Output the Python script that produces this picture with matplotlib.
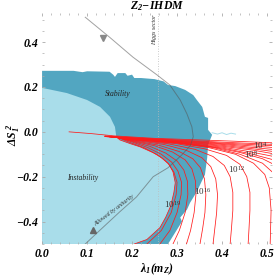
import numpy as np
import matplotlib
matplotlib.use("Agg")
import matplotlib.pyplot as plt
from matplotlib.ticker import MultipleLocator

plt.rcParams['mathtext.fontset'] = 'custom'
plt.rcParams['mathtext.it'] = 'Liberation Serif:bold:italic'
plt.rcParams['mathtext.rm'] = 'Liberation Serif:bold:italic'
plt.rcParams['mathtext.bf'] = 'Liberation Serif:bold:italic'

# --- regions ---
stab_lam = [0, 0.07, 0.09, 0.10, 0.15, 0.158, 0.162, 0.168, 0.185, 0.19, 0.20, 0.205, 0.22, 0.25, 0.27,
            0.28, 0.296, 0.318, 0.336, 0.344, 0.356, 0.362, 0.369, 0.369, 0.378, 0.369, 0.367, 0.362,
            0.355, 0.344, 0.329, 0.322, 0.307, 0.311, 0.28, 0]
stab_ds = [0.272, 0.272, 0.266, 0.27, 0.268, 0.255, 0.245, 0.262, 0.262, 0.25, 0.255, 0.24, 0.24, 0.235, 0.225,
           0.209, 0.204, 0.187, 0.164, 0.142, 0.111, 0.067, 0.062, 0.009, -0.013, -0.058, -0.116, -0.191,
           -0.22, -0.267, -0.316, -0.347, -0.382, -0.4, -0.5, -0.5]

inst_lam = [0, 0, 0.055, 0.10, 0.129, 0.151, 0.162, 0.165]
inst_ds = [-0.5, 0.196, 0.173, 0.142, 0.111, 0.067, 0.022, -0.022]

# small light-blue scrap right of the stable region
scrap_lam = [0.378, 0.39, 0.40, 0.41, 0.42, 0.43]
scrap_ds = [-0.004, -0.01, -0.004, -0.012, -0.006, -0.01]

# --- running curves (inner to outer) ---
red_lam = [
    [0.165, 0.173, 0.195, 0.218, 0.247, 0.268, 0.282, 0.291, 0.296, 0.293, 0.286, 0.275, 0.262, 0.233, 0.205],
    [0.165, 0.195, 0.228, 0.258, 0.28, 0.293, 0.30, 0.298, 0.287, 0.265, 0.233],
    [0.165, 0.20, 0.235, 0.265, 0.288, 0.302, 0.31, 0.309, 0.30, 0.284, 0.262],
    [0.16, 0.20, 0.24, 0.275, 0.30, 0.315, 0.323, 0.324, 0.318, 0.305, 0.291],
    [0.16, 0.20, 0.25, 0.29, 0.318, 0.333, 0.341, 0.342, 0.338, 0.33, 0.321],
    [0.16, 0.20, 0.26, 0.305, 0.335, 0.352, 0.361, 0.364, 0.362, 0.357, 0.351],
    [0.155, 0.20, 0.27, 0.32, 0.355, 0.375, 0.386, 0.39, 0.388, 0.384, 0.38],
    [0.155, 0.20, 0.28, 0.34, 0.38, 0.405, 0.418, 0.424, 0.424, 0.421, 0.418],
    [0.155, 0.20, 0.30, 0.36, 0.41, 0.44, 0.455, 0.462, 0.462, 0.46, 0.458],
    [0.15, 0.20, 0.30, 0.37, 0.43, 0.47, 0.495, 0.505, 0.509, 0.507],
    [0.15, 0.20, 0.30, 0.38, 0.44, 0.49, 0.515],
    [0.15, 0.20, 0.30, 0.38, 0.44, 0.49, 0.515],
    [0.15, 0.20, 0.30, 0.40, 0.46, 0.515],
    [0.15, 0.20, 0.30, 0.40, 0.46, 0.515],
    [0.14, 0.20, 0.30, 0.40, 0.47, 0.515],
    [0.14, 0.20, 0.30, 0.40, 0.47, 0.515],
    [0.14, 0.20, 0.30, 0.40, 0.515],
    [0.14, 0.20, 0.30, 0.40, 0.515],
    [0.14, 0.20, 0.30, 0.40, 0.515],
    [0.14, 0.20, 0.30, 0.40, 0.515],
    [0.06, 0.11, 0.16, 0.25, 0.35, 0.43, 0.515],
]
red_ds = [
    [-0.022, -0.036, -0.052, -0.067, -0.093, -0.118, -0.145, -0.178, -0.227, -0.27, -0.33, -0.38, -0.427, -0.48, -0.5],
    [-0.022, -0.047, -0.072, -0.104, -0.14, -0.18, -0.225, -0.28, -0.36, -0.44, -0.5],
    [-0.022, -0.045, -0.07, -0.10, -0.135, -0.175, -0.225, -0.28, -0.36, -0.44, -0.5],
    [-0.022, -0.042, -0.065, -0.095, -0.13, -0.17, -0.22, -0.28, -0.36, -0.44, -0.5],
    [-0.022, -0.04, -0.062, -0.09, -0.125, -0.165, -0.22, -0.28, -0.36, -0.44, -0.5],
    [-0.022, -0.038, -0.06, -0.088, -0.12, -0.16, -0.21, -0.28, -0.36, -0.43, -0.5],
    [-0.022, -0.036, -0.056, -0.082, -0.115, -0.155, -0.21, -0.28, -0.36, -0.43, -0.5],
    [-0.022, -0.035, -0.053, -0.078, -0.11, -0.15, -0.20, -0.27, -0.35, -0.43, -0.5],
    [-0.022, -0.034, -0.053, -0.075, -0.105, -0.145, -0.20, -0.27, -0.35, -0.43, -0.5],
    [-0.022, -0.033, -0.05, -0.07, -0.10, -0.14, -0.19, -0.25, -0.35, -0.5],
    [-0.022, -0.033, -0.049, -0.07, -0.10, -0.14, -0.185],
    [-0.022, -0.032, -0.048, -0.068, -0.092, -0.12, -0.145],
    [-0.021, -0.031, -0.047, -0.072, -0.096, -0.125],
    [-0.021, -0.031, -0.046, -0.068, -0.088, -0.110],
    [-0.021, -0.03, -0.044, -0.064, -0.082, -0.098],
    [-0.021, -0.03, -0.043, -0.06, -0.076, -0.088],
    [-0.02, -0.029, -0.042, -0.056, -0.079],
    [-0.02, -0.028, -0.04, -0.053, -0.07],
    [-0.02, -0.027, -0.038, -0.05, -0.062],
    [-0.018, -0.026, -0.036, -0.046, -0.056],
    [0.0, -0.008, -0.018, -0.029, -0.036, -0.042, -0.049],
]
scale_labels = ["4", "8", "12", "16", "19"]
scale_lam = [0.484, 0.464, 0.433, 0.356, 0.289]
scale_ds = [-0.062, -0.102, -0.169, -0.267, -0.324]

# unitarity / Higgs sector boundary
arc_lam = [0.096, 0.15, 0.202, 0.256, 0.284, 0.307, 0.322, 0.333, 0.336, 0.33, 0.311, 0.28, 0.247, 0.21, 0.173, 0.13, 0.096]
arc_ds = [0.511, 0.422, 0.333, 0.253, 0.209, 0.142, 0.08, 0.022, -0.022, -0.06, -0.102, -0.16, -0.2, -0.29, -0.356, -0.436, -0.5]

fig = plt.figure(figsize=(2.75, 2.76), dpi=100)
ax = fig.add_axes([0.153, 0.116, 0.836, 0.837])

ax.fill(stab_lam, stab_ds, color='#52a6c1', lw=0)
ax.fill(inst_lam + red_lam[0], inst_ds + red_ds[0], color='#a9ddea', lw=0)
ax.plot(scrap_lam, scrap_ds, color='#a9ddea', lw=0.7)
ax.axvline(0.258, color='#bbbbbb', lw=0.6, ls=(0, (1, 2)))

for xs, ys in zip(red_lam, red_ds):
    ax.plot(xs, ys, color='#ff1a1a', lw=0.55)

ax.plot(arc_lam, arc_ds, color='#555555', lw=0.7, alpha=0.55)
ax.plot([0.136], [0.418], marker='v', color='#888888', ms=4)
ax.plot([0.113], [-0.436], marker='^', color='#666666', ms=4)

for s, x, y in zip(scale_labels, scale_lam, scale_ds):
    ax.text(x, y, r'$\mathregular{10^{%s}}$' % s, fontsize=6.5, family='Liberation Serif',
            ha='center', va='center', color='#333333')

ax.text(0.169, 0.169, 'Stability', fontsize=5.5, family='Liberation Serif', style='italic',
        ha='center', va='center', color='#222222')
ax.text(0.089, -0.204, 'Instability', fontsize=5.5, family='Liberation Serif', style='italic',
        ha='center', va='center', color='#222222')
ax.text(0.16, -0.352, 'Allowed by unitarity', fontsize=4.3, family='Liberation Serif', style='italic',
        ha='center', va='center', rotation=37, color='#333333')
ax.text(0.249, 0.453, 'Higgs sector', fontsize=4.3, family='Liberation Serif', style='italic',
        ha='center', va='center', rotation=90, color='#333333')

ax.set_xlim(0, 0.511)
ax.set_ylim(-0.5, 0.53)
for sp in ax.spines.values():
    sp.set_visible(False)
ax.xaxis.set_minor_locator(MultipleLocator(0.02))
ax.yaxis.set_minor_locator(MultipleLocator(0.05))
ax.tick_params(which='both', direction='in', top=True, right=True, color='#aaaaaa', pad=3)
ax.tick_params(which='major', length=2.5, width=0.6)
ax.tick_params(which='minor', length=1.2, width=0.5)
ax.set_xticks(np.arange(0, 0.51, 0.1))
ax.set_xticklabels(['%.1f' % v for v in np.arange(0, 0.51, 0.1)])
ax.set_yticks([-0.4, -0.2, 0.0, 0.2, 0.4])
ax.set_yticklabels(['\u22120.4', '\u22120.2', '0.0', '0.2', '0.4'])
for lab in ax.get_xticklabels() + ax.get_yticklabels():
    lab.set_family('Liberation Serif')
    lab.set_weight('bold')
    lab.set_style('italic')
    lab.set_fontsize(8.5)

ax.set_title(r'$Z_2\!-\!IHDM$', fontsize=8.5, pad=2)
ax.set_xlabel(r'$\lambda_1(m_Z)$', fontsize=8.5, labelpad=1)
ax.set_ylabel(r'$\Delta S_1^{\,2}$', fontsize=8.5, va='center')
ax.yaxis.set_label_coords(-0.125, 0.47)

fig.savefig('out.png', dpi=100)
